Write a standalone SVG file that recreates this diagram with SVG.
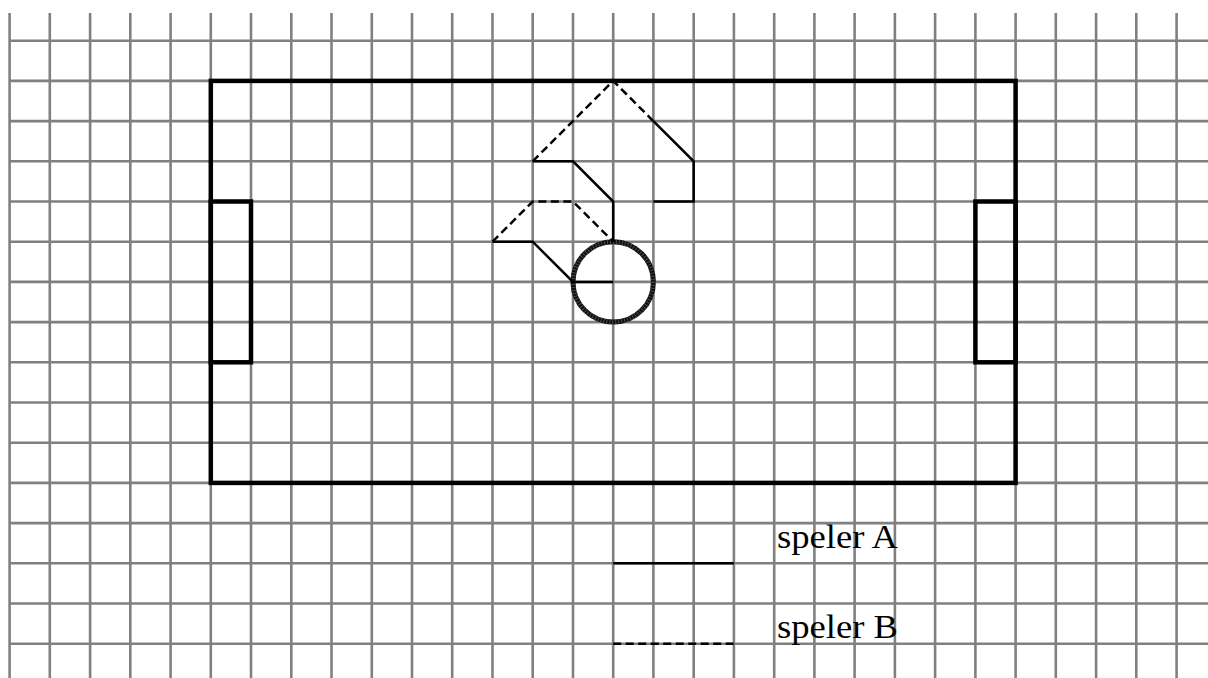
<svg xmlns="http://www.w3.org/2000/svg" width="1208" height="678" viewBox="0 0 1208 678">
<style>
.grid line{stroke:#808080;stroke-width:2.6}
.field{fill:none;stroke:#000;stroke-width:4.5}
.a{fill:none;stroke:#000;stroke-width:2.5}
.b{fill:none;stroke:#000;stroke-width:2.5;stroke-dasharray:8 4.5}
.lbl{font-family:"Liberation Serif","Times New Roman",serif;font-size:33px;fill:#000}
</style>
<rect width="1208" height="678" fill="#fff"/>
<g id="grid" class="grid">
<line x1="9.6" y1="13" x2="9.6" y2="678"/><line x1="49.8" y1="13" x2="49.8" y2="678"/><line x1="90.1" y1="13" x2="90.1" y2="678"/><line x1="130.3" y1="13" x2="130.3" y2="678"/><line x1="170.6" y1="13" x2="170.6" y2="678"/><line x1="210.8" y1="13" x2="210.8" y2="678"/><line x1="251" y1="13" x2="251" y2="678"/><line x1="291.3" y1="13" x2="291.3" y2="678"/><line x1="331.5" y1="13" x2="331.5" y2="678"/><line x1="371.8" y1="13" x2="371.8" y2="678"/><line x1="412" y1="13" x2="412" y2="678"/><line x1="452.2" y1="13" x2="452.2" y2="678"/><line x1="492.5" y1="13" x2="492.5" y2="678"/><line x1="532.7" y1="13" x2="532.7" y2="678"/><line x1="573" y1="13" x2="573" y2="678"/><line x1="613.2" y1="13" x2="613.2" y2="678"/><line x1="653.4" y1="13" x2="653.4" y2="678"/><line x1="693.7" y1="13" x2="693.7" y2="678"/><line x1="733.9" y1="13" x2="733.9" y2="678"/><line x1="774.2" y1="13" x2="774.2" y2="678"/><line x1="814.4" y1="13" x2="814.4" y2="678"/><line x1="854.6" y1="13" x2="854.6" y2="678"/><line x1="894.9" y1="13" x2="894.9" y2="678"/><line x1="935.1" y1="13" x2="935.1" y2="678"/><line x1="975.4" y1="13" x2="975.4" y2="678"/><line x1="1015.6" y1="13" x2="1015.6" y2="678"/><line x1="1055.8" y1="13" x2="1055.8" y2="678"/><line x1="1096.1" y1="13" x2="1096.1" y2="678"/><line x1="1136.3" y1="13" x2="1136.3" y2="678"/><line x1="1176.6" y1="13" x2="1176.6" y2="678"/>
<line x1="9" y1="40.7" x2="1208" y2="40.7"/><line x1="9" y1="80.9" x2="1208" y2="80.9"/><line x1="9" y1="121.1" x2="1208" y2="121.1"/><line x1="9" y1="161.3" x2="1208" y2="161.3"/><line x1="9" y1="201.5" x2="1208" y2="201.5"/><line x1="9" y1="241.7" x2="1208" y2="241.7"/><line x1="9" y1="281.9" x2="1208" y2="281.9"/><line x1="9" y1="322.1" x2="1208" y2="322.1"/><line x1="9" y1="362.3" x2="1208" y2="362.3"/><line x1="9" y1="402.5" x2="1208" y2="402.5"/><line x1="9" y1="442.7" x2="1208" y2="442.7"/><line x1="9" y1="482.9" x2="1208" y2="482.9"/><line x1="9" y1="523.1" x2="1208" y2="523.1"/><line x1="9" y1="563.3" x2="1208" y2="563.3"/><line x1="9" y1="603.5" x2="1208" y2="603.5"/><line x1="9" y1="643.7" x2="1208" y2="643.7"/>
</g>
<g id="field">
<rect class="field" x="210.8" y="80.9" width="804.8" height="402"/>
<rect class="field" x="210.8" y="201.5" width="40.2" height="160.8"/>
<rect class="field" x="975.4" y="201.5" width="40.2" height="160.8"/>
</g>
<g id="ball">
<circle cx="613.2" cy="281.9" r="40.2" fill="none" stroke="#111" stroke-width="5"/>
<circle cx="613.2" cy="281.9" r="40.2" fill="none" stroke="#555" stroke-width="5" stroke-dasharray="0.8 2.2"/>
</g>
<g id="connectors">
<path class="a" d="M613.2,281.9 L573,281.9 L532.7,241.7 L492.5,241.7"/>
<path class="a" d="M613.2,241.7 L613.2,201.5 L573,161.3 L532.7,161.3"/>
<path class="a" d="M653.4,121.1 L693.7,161.3 L693.7,201.5 L653.4,201.5"/>
<path class="b" d="M492.5,241.7 L532.7,201.5 L573,201.5 L613.2,241.7"/>
<path class="b" d="M532.7,161.3 L613.2,80.9 L653.4,121.1"/>
</g>
<g id="legend">
<line class="a" x1="613.2" y1="563.3" x2="733.9" y2="563.3"/>
<line class="b" x1="613.2" y1="643.7" x2="733.9" y2="643.7"/>
<text class="lbl" x="777" y="548" textLength="121" lengthAdjust="spacingAndGlyphs">speler A</text>
<text class="lbl" x="777" y="638" textLength="121" lengthAdjust="spacingAndGlyphs">speler B</text>
</g>
</svg>
